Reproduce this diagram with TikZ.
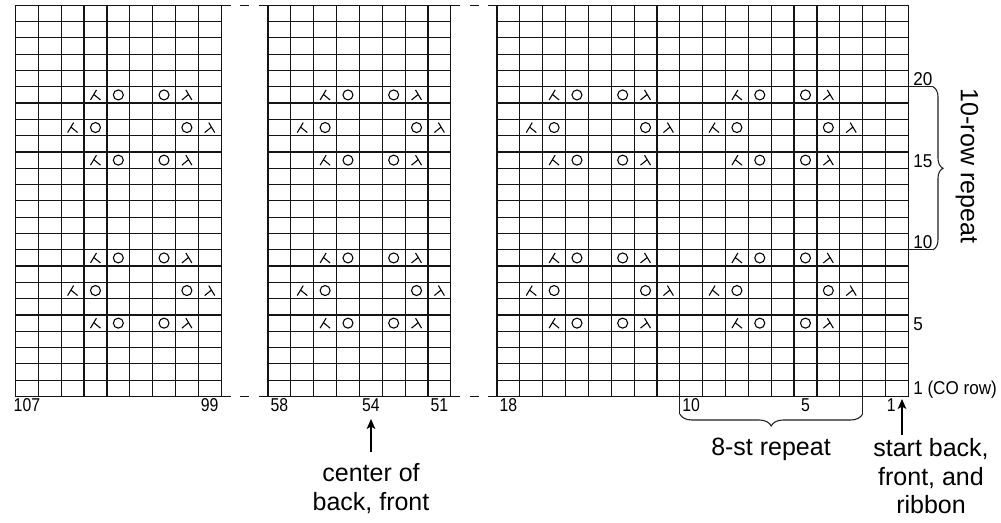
\documentclass[tikz,border=0pt]{standalone}
\usepackage{fontspec}
\setmainfont{Liberation Sans}
\newfontfamily\numfont[FakeStretch=0.85]{Liberation Sans}
\newfontfamily\labfont[FakeStretch=0.92]{Liberation Sans}
\usetikzlibrary{arrows.meta,decorations.pathreplacing}
\newcommand\symL[2]{\draw[symb] ({#1+1},{#2-5}) -- ({#1-5},{#2+5}) ({#1-1.7},{#2-0.5}) -- ({#1+5},{#2+5});}
\newcommand\symR[2]{\draw[symb] ({#1-1},{#2-5}) -- ({#1+5},{#2+5}) ({#1+1.7},{#2-0.5}) -- ({#1-5},{#2+5});}
\newcommand\symO[2]{\draw[symb] ({#1},{#2}) circle[radius=5];}
\newcommand\stsym[5]{%
  \pgfmathsetmacro\cx{#2+(#3-#4+0.5)*22.85}%
  \pgfmathsetmacro\cy{396.5-(#5-0.5)*16.3}%
  \csname sym#1\endcsname{\cx}{\cy}}
\newcommand\kgrid[2]{%
  \pgfmathsetmacro\xe{#1+#2*22.85}%
  \foreach \r in {0,...,24}{\draw[gridline] (#1,{5.3+\r*16.3}) -- (\xe,{5.3+\r*16.3});}%
  \foreach \c in {0,...,#2}{\draw[gridline] ({#1+\c*22.85},5.3) -- ({#1+\c*22.85},396.5);}}
\begin{document}
\begin{tikzpicture}[x=0.75pt,y=-0.75pt,
  gridline/.style={line width=0.9pt,black!92,line cap=rect},
  gapdash/.style={line width=0.9pt,black!92,dash pattern=on 7.02pt off 7.02pt},
  symb/.style={line width=0.8pt,black},
  numlab/.style={font=\numfont\fontsize{13.95pt}{16pt}\selectfont,inner sep=0pt},
  rowlab/.style={font=\labfont\fontsize{13.95pt}{16pt}\selectfont,inner sep=0pt,anchor=base west},
  biglab/.style={font=\fontsize{18.75pt}{21.4pt}\selectfont,inner sep=0pt,align=center},
  ptr/.style={line width=1pt,-{Stealth[length=7.5pt,width=6.5pt,inset=1.8pt]}},
  thinline/.style={line width=0.8pt,black!88},
  rbrace/.style={line width=0.8pt,black!88,decorate,decoration={brace,amplitude=7.5pt}},
  bbrace/.style={line width=0.8pt,black!88,decorate,decoration={brace,amplitude=9pt}}
]
\useasboundingbox (0,0) rectangle (1001,523);
% grids
\kgrid{15.5}{9}
\kgrid{268}{8}
\kgrid{497}{18}
% grid corners
\coordinate (Ltr) at (221.15,5.3);   \coordinate (Lbr) at (221.15,396.5);
\coordinate (Mtl) at (268,5.3);      \coordinate (Mbl) at (268,396.5);
\coordinate (Mtr) at (450.8,5.3);    \coordinate (Mbr) at (450.8,396.5);
\coordinate (Rtl) at (497,5.3);      \coordinate (Rbl) at (497,396.5);
\draw[gapdash] (Ltr) -- (Mtl);
\draw[gapdash] (Lbr) -- (Mbl);
\draw[gapdash] (Mtr) -- (Rtl);
\draw[gapdash] (Mbr) -- (Rbl);
% symbols: rows 5, 9, 15, 19
\foreach \row in {5,9,15,19}{
  \foreach \t/\x/\f/\s in {L/15.5/107/104, O/15.5/107/103, O/15.5/107/101, R/15.5/107/100,
    L/268/58/56, O/268/58/55, O/268/58/53, R/268/58/52,
    L/497/18/16, O/497/18/15, O/497/18/13, R/497/18/12,
    L/497/18/8, O/497/18/7, O/497/18/5, R/497/18/4}{\stsym{\t}{\x}{\f}{\s}{\row}}}
% rows 7, 17
\foreach \row in {7,17}{
  \foreach \t/\x/\f/\s in {L/15.5/107/105, O/15.5/107/104, O/15.5/107/100, R/15.5/107/99,
    L/268/58/57, O/268/58/56, O/268/58/52, R/268/58/51,
    L/497/18/17, O/497/18/16, O/497/18/12, R/497/18/11,
    L/497/18/9, O/497/18/8, O/497/18/4, R/497/18/3}{\stsym{\t}{\x}{\f}{\s}{\row}}}
% bottom stitch numbers
\node[numlab,anchor=base] (n107) at (26.9,411.5) {107};
\node[numlab,anchor=base] (n99) at (209.7,411.5) {99};
\node[numlab,anchor=base] (n58) at (279.4,411.5) {58};
\node[numlab,anchor=base] (n54) at (370.8,411.5) {54};
\node[numlab,anchor=base] (n51) at (439.4,411.5) {51};
\node[numlab,anchor=base] (n18) at (508.4,411.5) {18};
\node[numlab,anchor=base] (n10) at (691.2,411.5) {10};
\node[numlab,anchor=base] (n5) at (805.5,411.5) {5};
\node[numlab,anchor=base east] (n1) at (896,411.5) {1};
% row numbers
\node[rowlab] (r20) at (913,85.8) {20};
\node[rowlab] (r15) at (913,167.3) {15};
\node[rowlab] (r10) at (913,248.8) {10};
\node[rowlab] (r5) at (913,330.3) {5};
\node[rowlab] (r1) at (913,394.3) {1 (CO row)};
% row repeat brace
\coordinate (rbT0) at (908.3,86.8);  \coordinate (rbT) at (933,86.8);
\coordinate (rbB0) at (908.3,249.8); \coordinate (rbB) at (933,249.8);
\draw[thinline] (rbT0) -- (rbT);
\draw[thinline] (rbB0) -- (rbB);
\draw[rbrace] (rbT) -- (rbB);
\node[biglab,rotate=-90] (rrep) at (967,166) {10-row repeat};
% stitch repeat brace
\coordinate (sbL0) at (679.8,396.5); \coordinate (sbL) at (679.8,414);
\coordinate (sbR0) at (862.6,396.5); \coordinate (sbR) at (862.6,414);
\draw[thinline] (sbL0) -- (sbL);
\draw[thinline] (sbR0) -- (sbR);
\draw[bbrace] (sbR) -- (sbL);
\node[biglab,anchor=base] (srep) at (771,456) {8-st repeat};
% center label and arrow
\node[biglab,anchor=north] (ctr) at (371,463.4) {center of\\back, front};
\coordinate (ctrTip) at (371,419);
\draw[ptr] ([yshift=8.5pt]ctr.north) -- (ctrTip);
% start label and arrow
\node[biglab,anchor=north] (start) at (931,438.5) {start back,\\front, and\\ribbon};
\coordinate (stTip) at (902,399);
\coordinate (stTail) at (902,435);
\draw[ptr] (stTail) -- (stTip);
\end{tikzpicture}
\end{document}
